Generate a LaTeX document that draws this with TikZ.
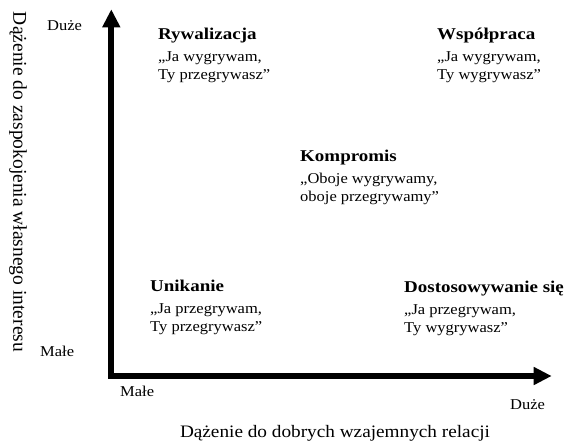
\documentclass[tikz,border=0pt]{standalone}
\usepackage{fontspec}
\setmainfont{Liberation Serif}[FakeStretch=1.1, BoldFeatures={FakeStretch=1.15}]
\newfontfamily\sidefont{Liberation Serif}
\usetikzlibrary{arrows.meta}
\tikzset{
  axis/.style={line width=6pt, line join=miter, -{Triangle[length=18pt,width=17pt]}},
  block/.style={inner sep=0pt, anchor=base west, align=left,
    font=\fontsize{15}{17.5}\selectfont},
  scalelbl/.style={inner sep=0pt, anchor=base west, font=\fontsize{15}{17}\selectfont},
  axlabel/.style={inner sep=0pt, font=\fontsize{17.5}{20}\selectfont}
}
\newcommand{\blk}[3]{{\fontsize{16.5}{18}\selectfont\bfseries #1}\\[4.5pt]#2\\#3}
\begin{document}
\begin{tikzpicture}[x=1pt,y=-1pt]
\useasboundingbox (0,0) rectangle (578,440);
\coordinate (top) at (111.3,9.3);
\coordinate (corner) at (111.3,376);
\coordinate (right) at (551.7,376);
\draw[axis] (corner) -- (top);
\draw[axis] (corner) -- (right);
\fill (108.3,373) rectangle (114.3,379);

% anchored at the baseline of the last line
\node[block] (ryw) at (158,79) {\blk{Rywalizacja}{„Ja wygrywam,}{Ty przegrywasz”}};
\node[block] (wsp) at (437,79) {\blk{Współpraca}{„Ja wygrywam,}{Ty wygrywasz”}};
\node[block] (kom) at (300,201) {\blk{Kompromis}{„Oboje wygrywamy,}{oboje przegrywamy”}};
\node[block] (uni) at (150,331) {\blk{Unikanie}{„Ja przegrywam,}{Ty przegrywasz”}};
\node[block] (dos) at (404,332) {\blk{Dostosowywanie się}{„Ja przegrywam,}{Ty wygrywasz”}};

\node[scalelbl] (dtop) at (47,30) {Duże};
\node[scalelbl] (mleft) at (40,356.5) {Małe};
\node[scalelbl] (mbot) at (120,396.5) {Małe};
\node[scalelbl] (dright) at (510,409) {Duże};

\node[axlabel, anchor=base] (xl) at (335,437) {Dążenie do dobrych wzajemnych relacji};
\node[inner sep=0pt, rotate=-90, font=\sidefont\fontsize{19.5}{22}\selectfont] (yl) at (18,182) {Dążenie do zaspokojenia własnego interesu};
\end{tikzpicture}
\end{document}
